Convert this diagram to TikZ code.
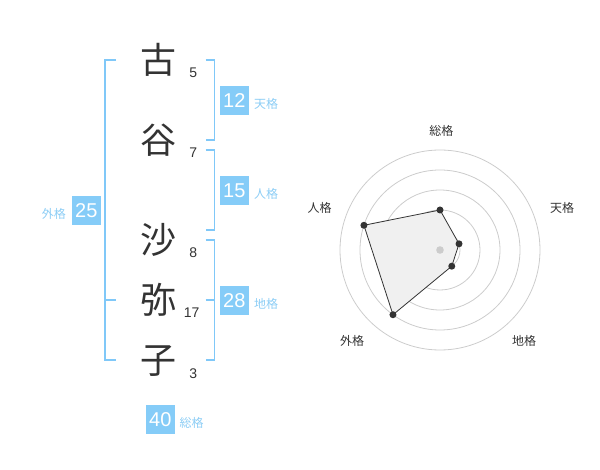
\documentclass[tikz,border=0pt]{standalone}
\usepackage{fontspec}
\setmainfont{Liberation Sans}
\newfontfamily\jp{Noto Sans CJK JP}
\definecolor{ink}{HTML}{333333}
\definecolor{brk}{RGB}{128,200,248}
\definecolor{boxc}{RGB}{133,204,248}
\definecolor{labc}{RGB}{140,205,245}
\definecolor{ringc}{HTML}{CCCCCC}
\definecolor{polyc}{HTML}{F0F0F0}
\tikzset{
  kanji/.style={font=\jp\fontsize{36}{36}\selectfont, text=ink, inner sep=0pt, text height=31.7pt, text depth=4.3pt},
  num/.style={font=\fontsize{14}{14}\selectfont, text=ink, inner sep=0pt, text height=10pt, text depth=0pt},
  valbox/.style={fill=boxc, text=white, minimum size=28.7pt, inner sep=0pt, font=\fontsize{20}{20}\selectfont},
  kaku/.style={font=\jp\fontsize{12}{12}\selectfont, text=labc, inner sep=0pt, anchor=west, text height=10.56pt, text depth=1.44pt},
  rlab/.style={font=\jp\fontsize{12}{12}\selectfont, text=ink, inner sep=0pt, text height=10.56pt, text depth=1.44pt},
  bracket/.style={draw=brk, line width=1.6pt},
  ring/.style={draw=ringc, line width=0.8pt},
  dot/.style={circle, fill=ink, inner sep=0pt, minimum size=7pt}
}
\begin{document}
\begin{tikzpicture}[x=1pt,y=-1pt]
\useasboundingbox (0,0) rectangle (600,470);
% kanji
\node[kanji] (k1) at (158.5,60) {古};
\node[kanji] (k2) at (158.5,140) {谷};
\node[kanji] (k3) at (158.5,240) {沙};
\node[kanji] (k4) at (158.5,300) {弥};
\node[kanji] (k5) at (158.5,360) {子};
% stroke counts
\node[num] (n1) at (193.3,72.7) {5};
\node[num] (n2) at (193.3,152.7) {7};
\node[num] (n3) at (193.3,252.7) {8};
\node[num] (n4) at (191.7,312.7) {17};
\node[num] (n5) at (193.3,373.3) {3};
% brackets
\draw[bracket] (116,60) -- (105,60) -- (105,360) -- (116,360);
\draw[bracket] (105,300) -- (116,300);
\draw[bracket] (205.5,60) -- (214.3,60) -- (214.3,140) -- (205.5,140);
\draw[bracket] (205.5,150) -- (214.3,150) -- (214.3,230) -- (205.5,230);
\draw[bracket] (205.5,240) -- (214.3,240) -- (214.3,360) -- (205.5,360);
\draw[bracket] (205.5,300) -- (214.3,300);
% value boxes
\node[valbox] (b1) at (234.3,100.3) {12};
\node[valbox] (b2) at (234.3,190.3) {15};
\node[valbox] (b3) at (234.3,300.3) {28};
\node[valbox] (b4) at (86.3,210.3) {25};
\node[valbox] (b5) at (160.3,419.3) {40};
\node[kaku] (l1) at (254,103.5) {天格};
\node[kaku] (l2) at (254,193.5) {人格};
\node[kaku] (l3) at (254,303.5) {地格};
\node[kaku] (l4) at (41.7,213.5) {外格};
\node[kaku] (l5) at (179.3,422.5) {総格};
% radar
\coordinate (c) at (440,250);
\foreach \r in {20,40,60,80,100} \draw[ring] (c) circle (\r);
\coordinate (p1) at (440,210);
\coordinate (p2) at (459.02,243.82);
\coordinate (p3) at (451.76,266.18);
\coordinate (p4) at (392.98,314.72);
\coordinate (p5) at (363.92,225.28);
\draw[fill=polyc, draw=ink, line width=0.8pt] (p1) -- (p2) -- (p3) -- (p4) -- (p5) -- cycle;
\fill[ringc] (c) circle (3.8);
\foreach \p in {p1,p2,p3,p4,p5} \node[dot] at (\p) {};
\node[rlab] (r1) at (441.3,130.5) {総格};
\node[rlab] (r2) at (562,208.3) {天格};
\node[rlab] (r3) at (319.5,208.3) {人格};
\node[rlab] (r4) at (352,341.3) {外格};
\node[rlab] (r5) at (524,341.3) {地格};
\end{tikzpicture}
\end{document}
